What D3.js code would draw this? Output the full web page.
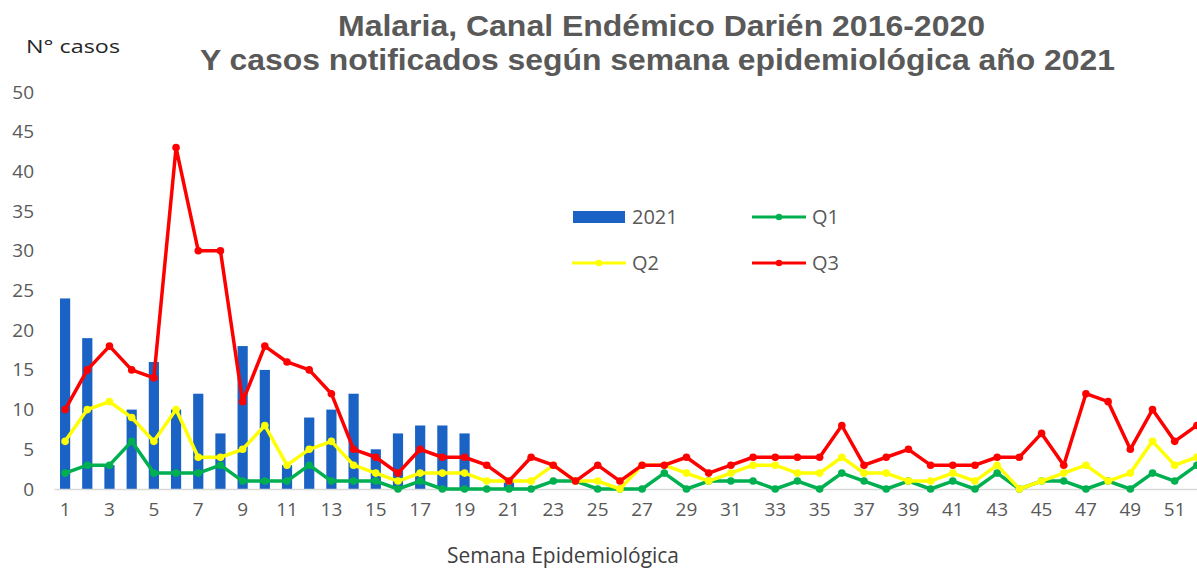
<!DOCTYPE html>
<html>
<head>
<meta charset="utf-8">
<script src="https://cdn.jsdelivr.net/npm/d3@7"></script>
<style>
  body { margin: 0; background: #fff; }
  svg { display: block; }
</style>
</head>
<body>
<div id="chart"></div>
<script>
// data
var weeks = d3.range(1, 53);
var cases2021 = [24,19,3,10,16,10,12,7,18,15,3,9,10,12,5,7,8,8,7,0,
  1,0,0,0,0,0,0,0,0,0, 0,0,0,0,0,0,0,0,0,0, 0,0,0,0,0,0,0,0,0,0, 0,0];
var q1 = [2,3,3,6,2,2,2,3,1,1,1,3,1,1,1,0,1,0,0,0,
  0,0,1,1,0,0,0,2,0,1, 1,1,0,1,0,2,1,0,1,0, 1,0,2,0,1,1,0,1,0,2, 1,3];
var q2 = [6,10,11,9,6,10,4,4,5,8,3,5,6,3,2,1,2,2,2,1,
  1,1,3,1,1,0,3,3,2,1, 2,3,3,2,2,4,2,2,1,1, 2,1,3,0,1,2,3,1,2,6, 3,4];
var q3 = [10,15,18,15,14,43,30,30,11,18,16,15,12,5,4,2,5,4,4,3,
  1,4,3,1,3,1,3,3,4,2, 3,4,4,4,4,8,3,4,5,3, 3,3,4,4,7,3,12,11,5,10, 6,8];
var yTicks = d3.range(0, 51, 5);
var xTicks = weeks.filter(function(d) { return d % 2 == 1; });

var W = 1197, H = 568;
var grey = "#595959";
var blue = "#1a63c4";

var svg = d3.select("#chart").append("svg")
  .attr("width", W).attr("height", H);

// scales (plot runs a little past the right edge, like the original)
var x = d3.scaleBand().domain(weeks).range([54, 1208])
  .paddingInner(0.54).paddingOuter(0.27);
var y = d3.scaleLinear().domain([0, 50]).range([489, 92]);
var cx = function(d, i) { return x(weeks[i]) + x.bandwidth() / 2; };

// titles
svg.append("text").attr("x", 338).attr("y", 36)
  .attr("textLength", 647).attr("lengthAdjust", "spacingAndGlyphs")
  .style("font-family", "Liberation Sans, Arial, sans-serif")
  .style("font-weight", "bold").style("font-size", "30px").style("fill", grey)
  .text("Malaria, Canal Endémico Darién 2016-2020");
svg.append("text").attr("x", 200).attr("y", 70)
  .attr("textLength", 915).attr("lengthAdjust", "spacingAndGlyphs")
  .style("font-family", "Liberation Sans, Arial, sans-serif")
  .style("font-weight", "bold").style("font-size", "30px").style("fill", grey)
  .text("Y casos notificados según semana epidemiológica año 2021");

svg.append("text").attr("x", 26).attr("y", 53)
  .attr("textLength", 94).attr("lengthAdjust", "spacingAndGlyphs")
  .style("font-family", "Open Sans, sans-serif").style("font-size", "19px")
  .style("fill", "#262626")
  .text("N° casos");

svg.append("text").attr("x", 563).attr("y", 563).attr("text-anchor", "middle")
  .attr("textLength", 232).attr("lengthAdjust", "spacingAndGlyphs")
  .style("font-family", "Open Sans, sans-serif").style("font-size", "21px")
  .style("fill", "#404040")
  .text("Semana Epidemiológica");

// y axis (labels only)
var yAxis = svg.append("g").attr("transform", "translate(34,0)")
  .call(d3.axisLeft(y).tickValues(yTicks).tickSize(0).tickPadding(0));
yAxis.select(".domain").remove();
yAxis.selectAll("text")
  .style("font-family", "Open Sans, sans-serif").style("font-size", "19px")
  .style("fill", grey);

// bars
svg.append("g").selectAll("rect")
  .data(cases2021)
  .enter().append("rect")
  .attr("x", function(d, i) { return x(weeks[i]); })
  .attr("width", x.bandwidth())
  .attr("y", function(d) { return y(d); })
  .attr("height", function(d) { return y(0) - y(d); })
  .attr("fill", blue);

// x axis
var xAxis = svg.append("g").attr("transform", "translate(0," + y(0) + ")")
  .call(d3.axisBottom(x).tickValues(xTicks).tickSize(0).tickSizeOuter(0).tickPadding(14));
xAxis.select(".domain").attr("stroke", "#d9d9d9").attr("stroke-width", 1.5);
xAxis.selectAll("text")
  .style("font-family", "Open Sans, sans-serif").style("font-size", "19px")
  .style("fill", grey);

// quartile lines
var series = [
  {name: "Q1", values: q1, color: "#00b050"},
  {name: "Q2", values: q2, color: "#ffff00"},
  {name: "Q3", values: q3, color: "#ff0000"}
];
var line = d3.line().x(cx).y(function(d) { return y(d); });

series.forEach(function(s) {
  var g = svg.append("g");
  g.append("path").datum(s.values)
    .attr("d", line)
    .attr("fill", "none").attr("stroke", s.color).attr("stroke-width", 3.5)
    .attr("stroke-linejoin", "round");
  g.selectAll("circle").data(s.values).enter().append("circle")
    .attr("cx", cx).attr("cy", function(d) { return y(d); })
    .attr("r", 3.8).attr("fill", s.color);
});

// legend
var legend = [
  {name: "2021", color: blue, bar: true, x: 573, y: 217},
  {name: "Q1", color: "#00b050", x: 752, y: 217},
  {name: "Q2", color: "#ffff00", x: 572, y: 263},
  {name: "Q3", color: "#ff0000", x: 752, y: 263}
];
var lg = svg.append("g").selectAll("g").data(legend).enter().append("g")
  .attr("transform", function(d) { return "translate(" + d.x + "," + d.y + ")"; });
lg.each(function(d) {
  var g = d3.select(this);
  if (d.bar) {
    g.append("rect").attr("x", 0).attr("y", -6).attr("width", 52).attr("height", 12)
      .attr("fill", d.color);
  } else {
    g.append("line").attr("x1", 0).attr("x2", 54).attr("y1", 0).attr("y2", 0)
      .attr("stroke", d.color).attr("stroke-width", 3);
    g.append("circle").attr("cx", 27).attr("cy", 0).attr("r", 3.2).attr("fill", d.color);
  }
  g.append("text").attr("x", d.bar ? 59 : 60).attr("y", 0).attr("dy", "0.35em")
    .style("font-family", "Open Sans, sans-serif").style("font-size", "20px")
    .style("fill", grey)
    .text(d.name);
});
</script>
</body>
</html>
